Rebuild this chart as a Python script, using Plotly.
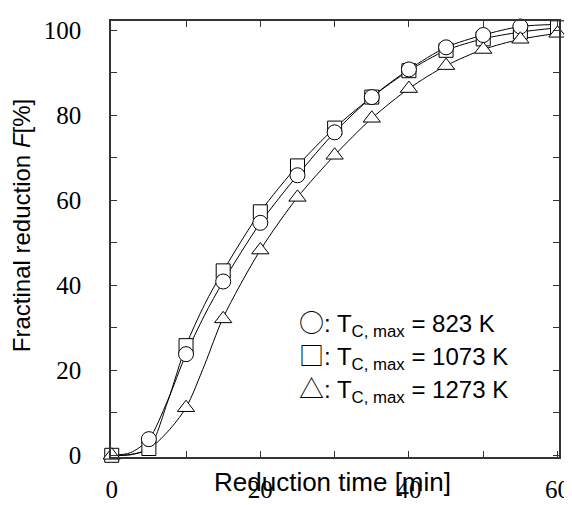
import plotly.graph_objects as go

time_min = [0, 5, 10, 15, 20, 25, 30, 35, 40, 45, 50, 55, 60]
pts_823 = [None, 3.8, 23.8, 40.9, 54.7, 65.9, 76.0, 84.3, 90.8, 96.0, 98.9, 100.9, None]
pts_1073 = [0, 1.6, 25.8, 43.4, 57.3, 68.1, 77.0, 84.3, 90.5, 95.3, 98.0, 99.6, 100.6]
pts_1273 = [0, None, 11.2, 32.1, 48.3, 60.7, 70.6, 79.3, 86.3, 91.7, 95.5, 97.9, 99.3]

# Fitted curves
curve_time = [0, 2.5, 5, 7.5, 10, 12.5, 15, 20, 25, 30, 35, 40, 45, 50, 55, 60]
curve_823 = [0, 0.6, 3.8, 12.8, 23.8, 33.0, 40.9, 54.7, 65.9, 76.0, 84.3, 90.8, 96.0, 98.9, 100.9, 101.4]
curve_1073 = [0, 0.2, 1.6, 12.5, 25.8, 35.5, 43.4, 57.3, 68.1, 77.0, 84.3, 90.5, 95.3, 98.0, 99.6, 100.6]
curve_1273 = [0, 0.1, 1.5, 5.5, 11.2, 21.3, 32.4, 48.3, 60.7, 70.6, 79.3, 86.3, 91.7, 95.5, 97.9, 99.3]

legend_glyphs = ["○", "□", "△"]
legend_texts = [
    ": T<sub>C, max</sub> = 823 K",
    ": T<sub>C, max</sub> = 1073 K",
    ": T<sub>C, max</sub> = 1273 K",
]

x_ticks = [0, 20, 40, 60]
x_minor = [10, 30, 50]
y_ticks = [0, 20, 40, 60, 80, 100]
y_minor = [10, 30, 50, 70, 90]

SANS = "Liberation Sans, Arial, sans-serif"
SERIF = "Liberation Serif, Times New Roman, serif"

fig = go.Figure()

for curve in (curve_823, curve_1073, curve_1273):
    fig.add_trace(go.Scatter(
        x=curve_time, y=curve, mode="lines",
        line=dict(color="black", width=1, shape="spline", smoothing=0.8),
        hoverinfo="skip", cliponaxis=False,
    ))

for pts, sym, size in ((pts_1073, "square", 14), (pts_823, "circle", 15), (pts_1273, "triangle-up", 15)):
    fig.add_trace(go.Scatter(
        x=time_min, y=pts, mode="markers",
        marker=dict(symbol=sym, size=size, color="white",
                    line=dict(color="black", width=1)),
        cliponaxis=False,
    ))

axis_common = dict(
    showgrid=False, zeroline=False, showline=True, linecolor="#333",
    linewidth=1.5, mirror="ticks", ticks="inside", ticklen=6, tickwidth=1,
    tickcolor="#333",
    tickfont=dict(family=SERIF, size=25, color="black"),
)

fig.update_xaxes(
    range=[-0.1, 60.2], tickvals=x_ticks, ticklabelstandoff=9,
    minor=dict(tickvals=x_minor, ticks="inside", ticklen=6, tickcolor="#333"),
    **axis_common,
)
fig.update_yaxes(
    range=[-0.4, 102.2], tickvals=y_ticks, ticklabelstandoff=23,
    minor=dict(tickvals=y_minor, ticks="inside", ticklen=6, tickcolor="#333"),
    **axis_common,
)

annotations = []
annotations.append(dict(
    text="Reduction time [min]", xref="paper", yref="paper",
    x=0.495, y=-0.058, xanchor="center", yanchor="middle", showarrow=False,
    font=dict(family=SANS, size=26, color="black"),
))
annotations.append(dict(
    text="Fractinal reduction <i>F</i>[%]", xref="paper", yref="paper",
    x=-0.198, y=0.53, xanchor="center", yanchor="middle", textangle=-90,
    showarrow=False,
    font=dict(family=SANS, size=24, color="black"),
))
for g, lab, yy in zip(legend_glyphs, legend_texts, (0.31, 0.234, 0.158)):
    annotations.append(dict(
        text='<span style="font-family:Noto Sans CJK JP;font-size:25px;">' + g + '</span>' + lab,
        xref="paper", yref="paper", x=0.415, y=yy,
        xanchor="left", yanchor="middle", showarrow=False,
        font=dict(family=SANS, size=24, color="black"),
    ))

fig.update_layout(
    width=572, height=505,
    margin=dict(l=103, r=12, t=10, b=38),
    plot_bgcolor="white", paper_bgcolor="white",
    showlegend=False, annotations=annotations,
)

fig.write_html("out.html")
